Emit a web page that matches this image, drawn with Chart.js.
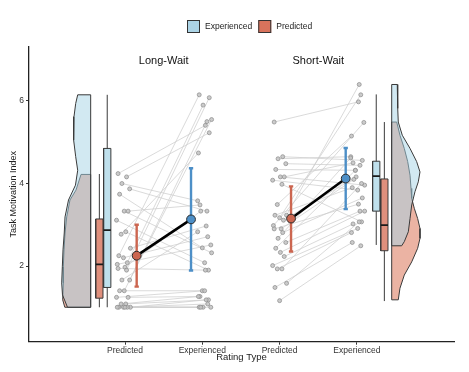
<!DOCTYPE html>
<html><head><meta charset="utf-8">
<script src="https://cdn.jsdelivr.net/npm/chart.js@4.4.1/dist/chart.umd.min.js"></script>
<style>html,body{margin:0;padding:0;background:#fff;}#wrap{width:469px;height:372px;position:relative;}</style>
</head><body><div id="wrap"><canvas id="c" width="469" height="372"></canvas></div>
<script>
// ---------------- data ----------------
const panels = ['Long-Wait', 'Short-Wait'];
const ratingTypes = ['Predicted', 'Experienced', 'Predicted', 'Experienced'];
const seriesNames = ['Experienced', 'Predicted'];
const yTickValues = [2, 4, 6];
const xTickValues = [1, 2, 3, 4];

// paired individual ratings (same index = same participant)
const lwPredicted   = [4.24, 4.16, 4.00, 3.87, 3.74, 3.33, 3.33, 3.11, 2.83, 2.77, 2.43, 2.25, 2.20, 2.08, 2.04, 1.97, 1.94, 1.90, 1.66, 1.66, 1.40, 1.40, 1.24, 1.24, 1.08, 1.08, 1.00, 1.00, 1.00, 1.00, 1.00, 1.00];
const lwExperienced = [5.41, 5.23, 3.58, 3.33, 2.44, 2.32, 3.48, 2.08, 1.90, 4.74, 2.97, 6.15, 2.71, 5.90, 2.51, 3.33, 1.90, 6.08, 2.83, 5.50, 1.40, 5.55, 1.26, 1.40, 1.18, 1.26, 1.18, 1.00, 1.08, 1.00, 1.00, 1.00];
const swPredicted   = [5.49, 4.65, 4.60, 4.48, 4.34, 4.16, 4.16, 4.08, 3.98, 3.49, 3.23, 3.23, 3.17, 3.11, 2.98, 2.90, 2.90, 2.81, 2.67, 2.57, 2.43, 2.33, 2.23, 2.01, 1.93, 1.93, 1.58, 1.48, 1.16];
const swExperienced = [5.98, 4.56, 4.65, 4.44, 4.32, 3.96, 4.50, 3.84, 3.07, 5.15, 6.40, 3.90, 6.15, 4.16, 5.48, 4.10, 3.50, 3.65, 4.62, 3.33, 4.32, 3.33, 3.02, 2.91, 4.00, 2.81, 3.07, 2.57, 2.49];

// group order: LW Predicted, LW Experienced, SW Predicted, SW Experienced
const groupMean    = [2.25, 3.13, 3.15, 4.12];
const groupErrLow  = [1.50, 1.89, 2.35, 3.38];
const groupErrHigh = [3.00, 4.37, 3.93, 4.86];

const boxWhiskerLow  = [1.00, 1.00, 1.15, 2.51];
const boxQ1          = [1.22, 1.48, 2.37, 3.33];
const boxMedian      = [2.04, 2.87, 2.99, 4.18];
const boxQ3          = [3.14, 4.85, 4.11, 4.54];
const boxWhiskerHigh = [4.23, 6.15, 5.49, 6.16];

// half-violin density profiles (value, half-width in rating-type units)
const lwExpViolinY  = [6.15, 5.94, 5.62, 5.37, 5.05, 4.65, 4.32, 3.96, 3.60, 3.19, 2.80, 2.39, 1.98, 1.59, 1.30, 1.00];
const lwExpViolinW  = [0.168, 0.194, 0.216, 0.225, 0.216, 0.194, 0.168, 0.197, 0.287, 0.332, 0.342, 0.358, 0.367, 0.375, 0.365, 0.300];
const lwPredViolinY = [4.22, 3.84, 3.60, 3.19, 2.80, 2.39, 1.98, 1.59, 1.18, 1.00];
const lwPredViolinW = [0.125, 0.190, 0.268, 0.310, 0.332, 0.345, 0.354, 0.354, 0.362, 0.335];
const swExpViolinY  = [6.40, 5.82, 5.49, 5.17, 4.85, 4.53, 4.28, 4.04, 3.80, 3.48, 3.15, 2.83, 2.59, 2.49];
const swExpViolinW  = [0.072, 0.078, 0.085, 0.137, 0.237, 0.323, 0.366, 0.344, 0.301, 0.259, 0.237, 0.215, 0.163, 0.129];
const swPredViolinY = [5.49, 5.17, 4.85, 4.53, 4.20, 3.88, 3.64, 3.40, 3.15, 2.91, 2.67, 2.43, 2.10, 1.78, 1.46, 1.18];
const swPredViolinW = [0.065, 0.107, 0.163, 0.207, 0.237, 0.250, 0.259, 0.292, 0.336, 0.366, 0.366, 0.336, 0.259, 0.163, 0.107, 0.085];

// ---------------- layout / style constants ----------------
const DOT_X  = [0.98, 2.03, 3.00, 4.01];
const MEAN_X = [1.151, 1.854, 3.148, 3.855];
const BOX_X  = [0.668, 0.770, 4.355, 4.250];
const BOX_HALF = 0.047;
const CAP_HALF = 0.028;
const VIOLIN_BASE = [0.556, 4.450];
const VIOLIN_DIR = [-1, 1];
const JITTER = [-0.07, 0.04, -0.02, 0.08, -0.05, 0.01, 0.06, -0.09, 0.03, -0.03, 0.09, -0.06, 0.0, 0.05, -0.08, 0.02];

const RED = '#cc6650', BLUE = '#4d8fc7';
const RED_BOX = '#df8f7c', BLUE_BOX = '#bfe0ec';
const RED_VIO = 'rgba(215,104,72,0.5)', BLUE_VIO = 'rgba(165,211,230,0.5)';
const EDGE = '#3a3a3a';
const FONT = '"Liberation Sans", Arial, sans-serif';

const GAP = {x: 0, y: null};

function violinShape(ys, ws, base, dir) {
  const pts = [{x: base, y: ys[0]}];
  for (let i = 0; i < ys.length; i++) pts.push({x: base + dir * ws[i], y: ys[i]});
  pts.push({x: base, y: ys[ys.length - 1]});
  pts.push({x: base, y: ys[0]});
  return pts;
}
function boxShape(g) {
  const c = BOX_X[g];
  return [{x: c - BOX_HALF, y: boxQ1[g]}, {x: c + BOX_HALF, y: boxQ1[g]}, {x: c + BOX_HALF, y: boxQ3[g]},
          {x: c - BOX_HALF, y: boxQ3[g]}, {x: c - BOX_HALF, y: boxQ1[g]}];
}
function join(list) {
  const out = [];
  list.forEach((seg, i) => { if (i) out.push(GAP); out.push(...seg); });
  return out;
}

const pairSets = [[lwPredicted, lwExperienced, 0, 1], [swPredicted, swExperienced, 2, 3]];
const pairLines = [], dots = [];
pairSets.forEach(([pred, exp, gp, ge]) => {
  pred.forEach((v, i) => {
    const a = {x: DOT_X[gp] + JITTER[i % JITTER.length], y: v};
    const b = {x: DOT_X[ge] + JITTER[(i + 5) % JITTER.length], y: exp[i]};
    pairLines.push([a, b]);
    dots.push(a, b);
  });
});

function errBars(groups) {
  return join(groups.flatMap(g => [
    [{x: MEAN_X[g], y: groupErrLow[g]}, {x: MEAN_X[g], y: groupErrHigh[g]}],
    [{x: MEAN_X[g] - CAP_HALF, y: groupErrLow[g]}, {x: MEAN_X[g] + CAP_HALF, y: groupErrLow[g]}],
    [{x: MEAN_X[g] - CAP_HALF, y: groupErrHigh[g]}, {x: MEAN_X[g] + CAP_HALF, y: groupErrHigh[g]}]
  ]));
}

const lineBase = {type: 'line', pointRadius: 0, pointHoverRadius: 0, tension: 0, spanGaps: false};

const datasets = [
  Object.assign({}, lineBase, {label: 'vioPred', order: 20, fill: 'shape', backgroundColor: RED_VIO, borderColor: EDGE, borderWidth: 1,
    data: join([violinShape(lwPredViolinY, lwPredViolinW, VIOLIN_BASE[0], VIOLIN_DIR[0]), violinShape(swPredViolinY, swPredViolinW, VIOLIN_BASE[1], VIOLIN_DIR[1])])}),
  Object.assign({}, lineBase, {label: 'vioExp', order: 19, fill: 'shape', backgroundColor: BLUE_VIO, borderColor: EDGE, borderWidth: 1,
    data: join([violinShape(lwExpViolinY, lwExpViolinW, VIOLIN_BASE[0], VIOLIN_DIR[0]), violinShape(swExpViolinY, swExpViolinW, VIOLIN_BASE[1], VIOLIN_DIR[1])])}),
  Object.assign({}, lineBase, {label: 'whiskers', order: 18, fill: false, borderColor: EDGE, borderWidth: 1,
    data: join([0, 1, 2, 3].map(g => [{x: BOX_X[g], y: boxWhiskerLow[g]}, {x: BOX_X[g], y: boxWhiskerHigh[g]}]))}),
  Object.assign({}, lineBase, {label: 'boxPred', order: 17, fill: 'shape', backgroundColor: RED_BOX, borderColor: EDGE, borderWidth: 1,
    data: join([boxShape(0), boxShape(2)])}),
  Object.assign({}, lineBase, {label: 'boxExp', order: 16, fill: 'shape', backgroundColor: BLUE_BOX, borderColor: EDGE, borderWidth: 1,
    data: join([boxShape(1), boxShape(3)])}),
  Object.assign({}, lineBase, {label: 'medians', order: 15, fill: false, borderColor: '#1a1a1a', borderWidth: 1.6,
    data: join([0, 1, 2, 3].map(g => [{x: BOX_X[g] - BOX_HALF, y: boxMedian[g]}, {x: BOX_X[g] + BOX_HALF, y: boxMedian[g]}]))}),
  Object.assign({}, lineBase, {label: 'pairs', order: 14, fill: false, borderColor: 'rgba(205,205,205,0.75)', borderWidth: 1,
    data: join(pairLines)}),
  {type: 'scatter', label: 'dots', order: 13, data: dots, pointRadius: 2, pointHoverRadius: 2,
    backgroundColor: 'rgba(195,195,195,0.85)', borderColor: 'rgba(140,140,140,0.9)', borderWidth: 0.8},
  Object.assign({}, lineBase, {label: 'errPred', order: 12, fill: false, borderColor: RED, borderWidth: 2.4, data: errBars([0, 2])}),
  Object.assign({}, lineBase, {label: 'errExp', order: 11, fill: false, borderColor: BLUE, borderWidth: 2.4, data: errBars([1, 3])}),
  Object.assign({}, lineBase, {label: 'meanLine', order: 10, fill: false, borderColor: '#000', borderWidth: 2.6,
    data: join([[{x: MEAN_X[0], y: groupMean[0]}, {x: MEAN_X[1], y: groupMean[1]}], [{x: MEAN_X[2], y: groupMean[2]}, {x: MEAN_X[3], y: groupMean[3]}]])}),
  {type: 'scatter', label: 'means', order: 9, data: [0, 1, 2, 3].map(g => ({x: MEAN_X[g], y: groupMean[g]})),
    pointRadius: 4.4, pointHoverRadius: 4.4, backgroundColor: [RED, BLUE, RED, BLUE], borderColor: '#2b2b2b', borderWidth: 1}
];

const overlay = {
  id: 'overlay',
  afterDraw(chart) {
    const ctx = chart.ctx, xs = chart.scales.x, ys = chart.scales.y;
    ctx.save();
    // panel titles
    ctx.fillStyle = '#111';
    ctx.font = '11px ' + FONT;
    ctx.textAlign = 'center'; ctx.textBaseline = 'middle';
    ctx.fillText(panels[0], xs.getPixelForValue(1.5), ys.getPixelForValue(6.96));
    ctx.fillText(panels[1], xs.getPixelForValue(3.5), ys.getPixelForValue(6.96));
    // legend
    ctx.font = '8.5px ' + FONT;
    ctx.textAlign = 'left';
    const colors = ['#acd4e6', '#d8735c'];
    let x = 187; const y = 20, s = 13;
    seriesNames.forEach((name, i) => {
      ctx.fillStyle = colors[i];
      ctx.fillRect(x, y, s, s);
      ctx.strokeStyle = '#333'; ctx.lineWidth = 1;
      ctx.strokeRect(x + 0.5, y + 0.5, s - 1, s - 1);
      ctx.fillStyle = '#222';
      ctx.fillText(name, x + s + 5, y + s / 2 + 0.5);
      x += s + 5 + ctx.measureText(name).width + 6;
    });
    ctx.restore();
  }
};

new Chart(document.getElementById('c'), {
  type: 'line',
  data: {datasets},
  options: {
    responsive: false,
    animation: false,
    events: [],
    layout: {padding: {top: 47, right: 15, bottom: 0, left: 0}},
    plugins: {legend: {display: false}, tooltip: {enabled: false}},
    scales: {
      x: {
        type: 'linear', min: -0.242, max: 5.256,
        afterBuildTicks: s => { s.ticks = xTickValues.map(v => ({value: v})); },
        afterFit: s => { s.height = 30.3; },
        grid: {display: true, drawOnChartArea: false, drawTicks: true, tickLength: 3, color: '#333'},
        border: {display: true, color: '#222', width: 1.3},
        ticks: {padding: 1, color: '#333', font: {family: FONT, size: 8.5}, maxRotation: 0, autoSkip: false,
          callback: v => ratingTypes[xTickValues.indexOf(v)]},
        title: {display: true, text: 'Rating Type', color: '#222', font: {family: FONT, size: 9.5}, padding: {top: 0, bottom: 8.5}}
      },
      y: {
        type: 'linear', min: 0.165, max: 7.309,
        afterBuildTicks: s => { s.ticks = yTickValues.map(v => ({value: v})); },
        afterFit: s => { s.width = 29; },
        grid: {display: true, drawOnChartArea: false, drawTicks: true, tickLength: 3, color: '#333'},
        border: {display: true, color: '#222', width: 1.3},
        ticks: {padding: 2, color: '#333', font: {family: FONT, size: 8.5}, callback: v => String(v)},
        title: {display: true, text: 'Task Motivation Index', color: '#222', font: {family: FONT, size: 9}, padding: {top: 8.6, bottom: 0}}
      }
    }
  },
  plugins: [overlay]
});
</script></body></html>
